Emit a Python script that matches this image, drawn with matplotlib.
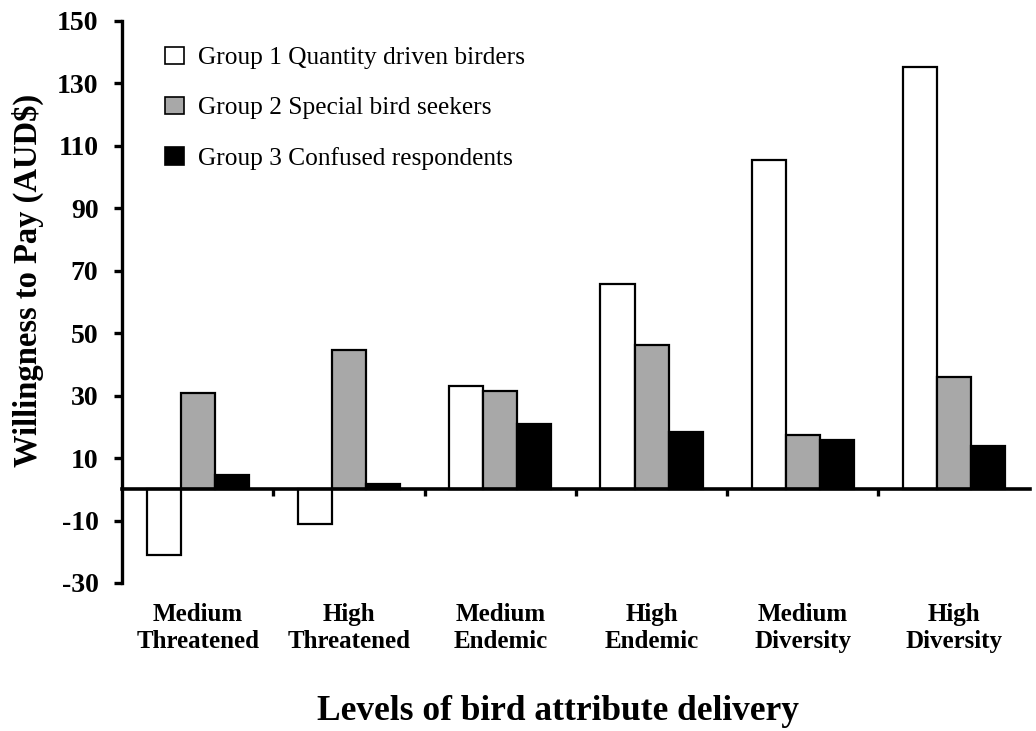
import numpy as np
import matplotlib
matplotlib.use("Agg")
from matplotlib import pyplot as plt
from matplotlib.patches import Patch

plt.rcParams['font.family'] = ['Liberation Serif', 'DejaVu Serif']

# 数据
levels = ["Medium\nThreatened", "High\nThreatened", "Medium\nEndemic",
          "High\nEndemic", "Medium\nDiversity", "High\nDiversity"]
group_names = ["Group 1 Quantity driven birders",
               "Group 2 Special bird seekers",
               "Group 3 Confused respondents"]
group1 = [-21.0, -11.0, 33.0, 65.6, 105.5, 135.4]
group2 = [31.0, 44.5, 31.5, 46.2, 17.4, 36.1]
group3 = [4.5, 1.8, 20.8, 18.5, 15.9, 13.8]
y_ticks = [-30, -10, 10, 30, 50, 70, 90, 110, 130, 150]

colors = ["white", "#a8a8a8", "black"]

fig = plt.figure(figsize=(10.36, 7.31), dpi=100)
ax = fig.add_axes([0.1178, 0.2025, 0.8762, 0.7688])

x = np.arange(len(levels))
w = 0.225
for k, vals in enumerate([group1, group2, group3]):
    ax.bar(x + (k - 1) * w, vals, width=w, color=colors[k],
           edgecolor="black", linewidth=1.6, label=group_names[k], zorder=2)

ax.set_xlim(-0.5, len(levels) - 0.5)
ax.set_ylim(-30, 150)
ax.set_yticks(y_ticks)
ax.set_yticklabels([str(t) for t in y_ticks], fontsize=20, fontweight="bold")

# x轴放在0的位置
ax.spines["bottom"].set_position(("data", 0))
ax.spines["bottom"].set_linewidth(2.6)
ax.spines["bottom"].set_zorder(3)
ax.spines["left"].set_linewidth(2.4)
ax.spines["top"].set_visible(False)
ax.spines["right"].set_visible(False)

ax.set_xticks(np.arange(0.5, len(levels) - 0.5, 1.0))
ax.set_xticklabels([])
ax.tick_params(axis="x", direction="out", length=5, width=2.4)
ax.tick_params(axis="y", direction="out", length=6, width=2.4, pad=11)

# 类别标签放在-30下面
for i, lab in enumerate(levels):
    ax.text(i, -0.035, lab, transform=ax.get_xaxis_transform(),
            ha="center", va="top", fontsize=18, fontweight="bold",
            linespacing=1.25)

ax.set_ylabel("Willingness to Pay (AUD$)", fontsize=23.5, fontweight="bold")
ax.yaxis.set_label_coords(-0.086, 0.539)
fig.text(0.539, 0.026, "Levels of bird attribute delivery", ha="center",
         va="center", fontsize=25.5, fontweight="bold")

handles = [Patch(facecolor=c, edgecolor="black", linewidth=1.2) for c in colors]
ax.legend(handles, group_names, loc="upper left",
          bbox_to_anchor=(0.147, 0.9536), bbox_transform=fig.transFigure,
          frameon=False, fontsize=18.3, handlelength=0.75, handleheight=0.7,
          handletextpad=0.55, labelspacing=1.07, borderpad=0)

fig.savefig("out.png", dpi=100)
